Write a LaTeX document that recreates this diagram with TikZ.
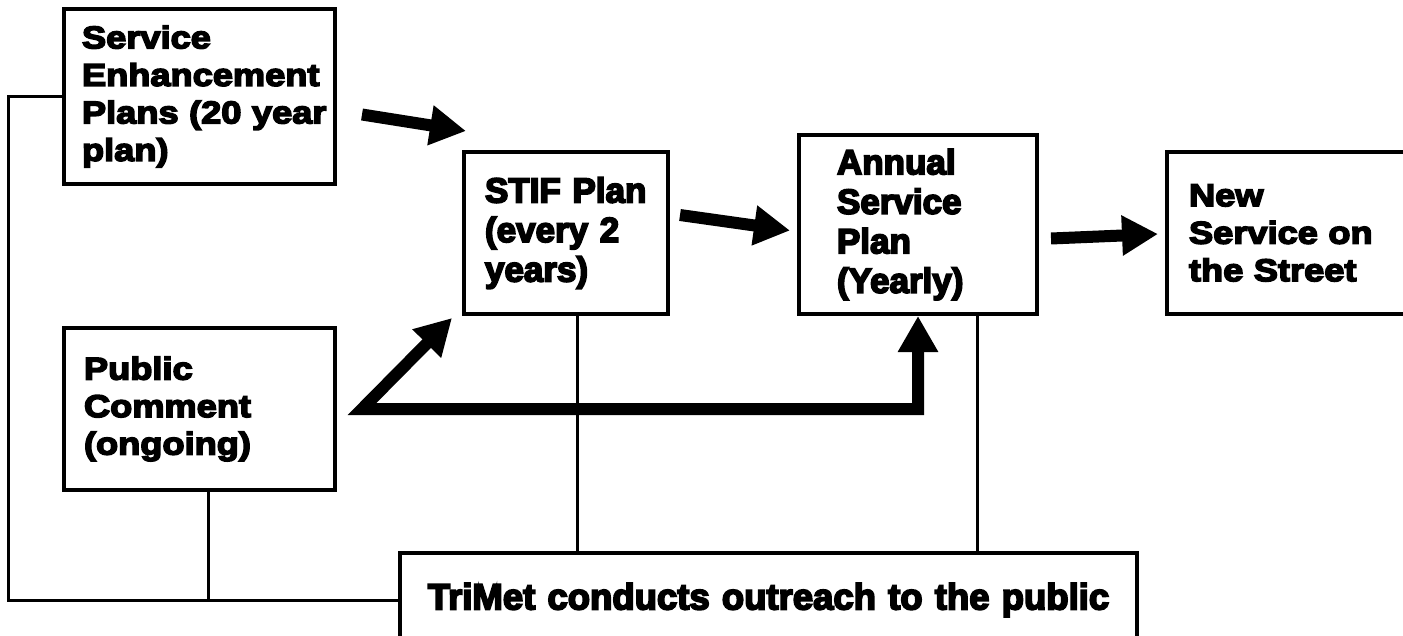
\documentclass[tikz,border=0pt]{standalone}
\usepackage{fontspec}
\usetikzlibrary{arrows.meta}
\newfontfamily\widefont{Liberation Sans Bold}[FakeStretch=1.15,FakeBold=5]
\newfontfamily\narrowfont{Liberation Sans Bold}[FakeBold=5]
\begin{document}
\begin{tikzpicture}[x=1pt,y=-1pt,
    stage/.style={draw,line width=4pt,rectangle,anchor=north west,align=left,inner ysep=0pt},
    wide/.style={font=\widefont\fontsize{31.5pt}{37.5pt}\selectfont},
    narrow/.style={font=\narrowfont\fontsize{35pt}{39.5pt}\selectfont},
    link/.style={line width=3pt},
    bigarrow/.style={line width=12pt,>={Triangle[length=36pt,width=38pt]},->}]
      \useasboundingbox (0,0) rectangle (1403,635);
      \fill[white] (0,0) rectangle (1403,635);
      \node[stage,wide,text width=235pt,inner xsep=18pt,minimum height=175pt] (sep) at (62,7) {Service\\Enhancement\\Plans~(20~year\\plan)};
      \node[stage,narrow,text width=162pt,inner xsep=21pt,minimum height=162pt] (stif) at (462,150) {STIF Plan\\(every 2\\years)};
      \node[stage,narrow,text width=162pt,inner xsep=38pt,minimum height=179pt] (asp) at (797,133) {Annual\\Service\\Plan\\(Yearly)};
      \node[stage,wide,text width=216pt,inner xsep=22pt,minimum height=162pt] (nss) at (1165,150) {New\\Service on\\the Street};
      \node[stage,wide,text width=231pt,inner xsep=20pt,minimum height=162pt] (pc) at (62,326) {Public\\Comment\\(ongoing)};
      \node[stage,narrow,font=\narrowfont\fontsize{36.5pt}{40pt}\selectfont,align=center,text width=717pt,inner xsep=10pt,minimum height=94pt] (trimet) at (398,551) {TriMet conducts outreach to the public};
      \coordinate (pcarr) at ([xshift=25pt]pc.east);
      \draw[bigarrow] ([xshift=25pt,yshift=-18pt]sep.east) -- ([xshift=4pt,yshift=19pt]stif.north west);
      \draw[bigarrow] ([xshift=10pt,yshift=18pt]stif.east) -- ([xshift=-7pt,yshift=-6pt]asp.west);
      \draw[bigarrow] ([xshift=12pt,yshift=-14pt]asp.east) -- ([xshift=-7pt,yshift=-1pt]nss.west);
      \draw[bigarrow,<->] ([xshift=-10pt,yshift=-2pt]stif.south west) -- (pcarr) -| (asp.south);
      \draw[link] (sep.west) -- ++(-54,0) |- (trimet.west);
      \draw[link] ([xshift=9pt]pc.south) -- ([xshift=9pt]pc.south |- trimet.west);
      \draw[link] ([xshift=11pt]stif.south) -- ([xshift=11pt]stif.south |- trimet.north);
      \draw[link] ([xshift=59pt]asp.south) -- ([xshift=59pt]asp.south |- trimet.north);
    \end{tikzpicture}
\end{document}
